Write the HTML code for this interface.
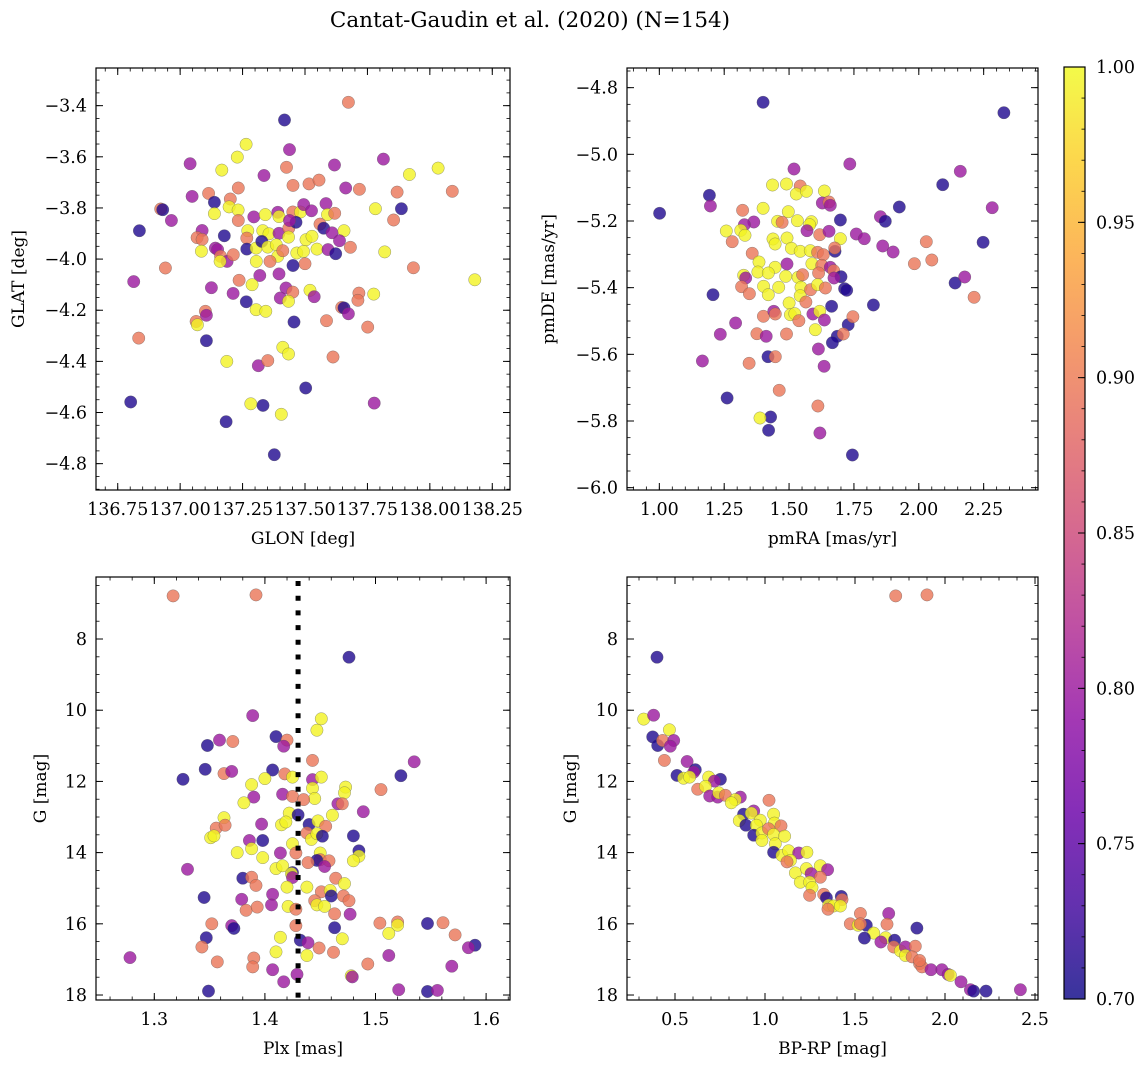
<!DOCTYPE html>
<html><head><meta charset="utf-8">
<style>
html,body{margin:0;padding:0;background:#fff;}
svg{display:block;font-family:"DejaVu Serif","Liberation Serif",serif;}
</style></head>
<body>
<svg id="fig" width="1148" height="1067" viewBox="0 0 1148 1067" xmlns="http://www.w3.org/2000/svg">
<defs>
<linearGradient id="cbgrad" x1="0" y1="1" x2="0" y2="0">
<stop offset="0" stop-color="#0d0887"/><stop offset="0.1" stop-color="#41049d"/><stop offset="0.2" stop-color="#6a00a8"/><stop offset="0.3" stop-color="#8f0da4"/><stop offset="0.4" stop-color="#b12a90"/><stop offset="0.5" stop-color="#cc4778"/><stop offset="0.6" stop-color="#e16462"/><stop offset="0.7" stop-color="#f2844b"/><stop offset="0.8" stop-color="#fca636"/><stop offset="0.9" stop-color="#fcce25"/><stop offset="1" stop-color="#f0f921"/>
</linearGradient>
</defs>
<text x="530" y="27" font-size="21.5" text-anchor="middle">Cantat-Gaudin et al. (2020) (N=154)</text>
</svg>
<script>
const p1x=[137.674,137.418,137.264,137.438,137.040,137.229,137.167,137.426,137.618,137.814,138.033,137.918,137.336,137.452,137.516,137.556,137.663,137.718,137.869,138.090,137.233,137.114,137.048,137.201,137.137,136.922,136.930,136.965,136.837,137.137,137.196,137.232,137.233,137.295,137.341,137.391,137.396,137.451,137.482,137.495,137.526,137.584,137.590,137.619,137.782,137.886,137.855,137.088,137.068,137.088,137.177,137.271,137.267,137.331,137.356,137.396,137.435,137.434,137.464,137.438,137.504,137.528,137.560,137.575,137.608,137.656,137.638,137.085,137.141,137.150,137.162,137.188,137.160,137.213,137.267,137.304,137.327,137.351,137.385,137.391,137.360,137.305,137.411,137.467,137.494,137.500,137.452,137.548,137.592,137.623,137.682,137.819,136.941,137.934,136.814,138.180,137.236,137.319,137.396,137.125,137.212,137.288,137.424,137.451,137.520,137.537,137.401,137.434,137.265,137.716,137.712,137.775,137.101,137.105,137.064,137.069,137.304,137.343,137.456,137.586,137.647,137.656,137.674,137.751,136.834,137.105,137.187,137.313,137.351,137.411,137.434,137.612,137.503,136.802,137.283,137.332,137.405,137.777,137.184,137.377];
const p1y=[-3.387,-3.456,-3.551,-3.572,-3.627,-3.601,-3.652,-3.641,-3.632,-3.609,-3.644,-3.669,-3.673,-3.712,-3.706,-3.691,-3.722,-3.727,-3.738,-3.735,-3.722,-3.743,-3.755,-3.765,-3.778,-3.804,-3.807,-3.849,-3.889,-3.822,-3.796,-3.808,-3.849,-3.835,-3.826,-3.817,-3.834,-3.816,-3.816,-3.787,-3.811,-3.783,-3.826,-3.821,-3.803,-3.803,-3.847,-3.888,-3.916,-3.923,-3.909,-3.889,-3.918,-3.889,-3.901,-3.899,-3.879,-3.914,-3.856,-3.849,-3.924,-3.911,-3.863,-3.879,-3.897,-3.889,-3.928,-3.969,-3.957,-3.963,-3.989,-4.009,-4.009,-3.983,-3.961,-3.957,-3.931,-3.953,-3.944,-3.989,-4.009,-4.009,-3.967,-3.976,-3.970,-4.018,-4.025,-3.961,-3.963,-3.979,-3.954,-3.972,-4.035,-4.034,-4.088,-4.081,-4.083,-4.064,-4.058,-4.112,-4.134,-4.100,-4.113,-4.129,-4.122,-4.147,-4.152,-4.165,-4.167,-4.133,-4.161,-4.137,-4.204,-4.220,-4.244,-4.257,-4.198,-4.204,-4.246,-4.241,-4.189,-4.191,-4.214,-4.266,-4.309,-4.319,-4.400,-4.417,-4.397,-4.345,-4.371,-4.383,-4.504,-4.559,-4.566,-4.572,-4.607,-4.563,-4.636,-4.765];
const p1p=[.895,.71,.995,.8,.8,.995,.995,.895,.8,.8,.995,.995,.8,.895,.895,.895,.8,.895,.895,.895,.895,.895,.8,.895,.71,.895,.71,.8,.71,.995,.995,.995,.895,.8,.995,.8,.995,.895,.995,.8,.8,.8,.995,.895,.995,.71,.895,.8,.895,.895,.71,.995,.895,.995,.995,.8,.895,.995,.71,.8,.995,.995,.895,.71,.8,.995,.8,.995,.8,.8,.895,.8,.995,.895,.71,.995,.71,.995,.995,.995,.895,.995,.895,.995,.995,.895,.71,.995,.8,.71,.895,.995,.895,.895,.8,.995,.895,.8,.8,.8,.8,.995,.8,.895,.995,.8,.8,.995,.71,.895,.895,.995,.895,.8,.895,.995,.995,.995,.71,.895,.895,.71,.8,.895,.895,.71,.995,.8,.895,.995,.995,.895,.71,.71,.995,.71,.995,.8,.71,.71];

const p2x=[1.400,2.328,1.734,1.519,2.160,2.092,1.436,1.490,1.543,1.528,1.567,1.636,1.193,1.197,1.001,1.628,1.654,1.659,1.925,2.283,1.321,1.400,1.497,1.456,1.473,1.532,1.586,1.579,1.364,1.328,1.698,1.852,1.871,1.258,1.314,1.330,1.281,1.438,1.492,1.446,1.569,1.618,1.654,1.698,1.759,1.790,1.861,1.901,2.029,2.248,1.358,1.509,1.543,1.582,1.610,1.632,1.677,1.676,1.384,1.492,1.446,1.588,1.626,1.659,1.983,2.050,1.325,1.333,1.380,1.420,1.487,1.535,1.552,1.614,1.672,1.700,1.673,2.140,2.177,1.207,1.317,1.347,1.402,1.420,1.460,1.546,1.543,1.583,1.610,1.640,1.714,1.722,2.213,1.500,1.565,1.664,1.825,1.401,1.441,1.447,1.505,1.522,1.538,1.592,1.618,1.636,1.294,1.235,1.376,1.412,1.490,1.601,1.728,1.746,1.686,1.667,1.709,1.613,1.419,1.447,1.346,1.166,1.635,1.462,1.261,1.611,1.429,1.388,1.421,1.619,1.744];
const p2y=[-4.844,-4.875,-5.029,-5.044,-5.051,-5.091,-5.092,-5.089,-5.095,-5.119,-5.111,-5.110,-5.123,-5.155,-5.177,-5.146,-5.143,-5.153,-5.158,-5.160,-5.168,-5.162,-5.172,-5.201,-5.204,-5.199,-5.202,-5.211,-5.203,-5.211,-5.197,-5.187,-5.201,-5.230,-5.228,-5.243,-5.262,-5.254,-5.251,-5.269,-5.229,-5.241,-5.231,-5.253,-5.239,-5.253,-5.275,-5.293,-5.262,-5.264,-5.297,-5.282,-5.291,-5.289,-5.294,-5.301,-5.291,-5.281,-5.323,-5.329,-5.339,-5.328,-5.333,-5.339,-5.328,-5.317,-5.363,-5.371,-5.353,-5.356,-5.366,-5.369,-5.361,-5.356,-5.349,-5.367,-5.371,-5.386,-5.368,-5.421,-5.397,-5.418,-5.396,-5.421,-5.399,-5.399,-5.424,-5.406,-5.391,-5.401,-5.403,-5.408,-5.429,-5.446,-5.443,-5.456,-5.452,-5.486,-5.471,-5.479,-5.481,-5.478,-5.499,-5.479,-5.471,-5.497,-5.506,-5.540,-5.538,-5.546,-5.539,-5.526,-5.511,-5.487,-5.546,-5.565,-5.539,-5.584,-5.607,-5.607,-5.627,-5.620,-5.636,-5.708,-5.731,-5.755,-5.788,-5.791,-5.828,-5.836,-5.902];
const p2p=[.71,.71,.8,.8,.8,.71,.995,.995,.895,.995,.995,.995,.71,.8,.71,.8,.895,.8,.71,.8,.895,.995,.995,.995,.895,.995,.995,.995,.8,.8,.71,.8,.71,.995,.995,.995,.895,.995,.995,.995,.8,.895,.8,.995,.8,.8,.8,.8,.895,.71,.895,.995,.995,.995,.895,.895,.71,.895,.995,.8,.995,.995,.895,.8,.895,.895,.995,.8,.995,.995,.995,.995,.895,.895,.895,.71,.8,.71,.8,.71,.895,.895,.995,.995,.995,.995,.995,.895,.995,.895,.71,.71,.895,.995,.895,.71,.71,.895,.8,.895,.995,.995,.895,.8,.995,.8,.8,.8,.895,.8,.895,.995,.71,.895,.71,.71,.895,.8,.71,.895,.895,.8,.8,.895,.71,.895,.71,.995,.71,.8,.71];

const p3x=[1.317,1.392,1.476,1.389,1.451,1.447,1.410,1.420,1.417,1.348,1.359,1.371,1.443,1.535,1.326,1.346,1.363,1.370,1.407,1.418,1.425,1.443,1.451,1.523,1.388,1.400,1.473,1.472,1.443,1.445,1.505,1.390,1.381,1.416,1.425,1.435,1.466,1.470,1.489,1.363,1.422,1.430,1.461,1.397,1.415,1.419,1.440,1.448,1.455,1.356,1.364,1.351,1.354,1.438,1.442,1.447,1.452,1.480,1.386,1.398,1.388,1.425,1.375,1.398,1.414,1.428,1.450,1.450,1.447,1.458,1.439,1.454,1.485,1.485,1.480,1.330,1.410,1.416,1.425,1.424,1.425,1.380,1.388,1.392,1.464,1.472,1.420,1.438,1.451,1.459,1.460,1.471,1.476,1.345,1.379,1.407,1.406,1.445,1.447,1.454,1.383,1.393,1.421,1.428,1.463,1.477,1.352,1.370,1.372,1.428,1.463,1.504,1.520,1.520,1.512,1.547,1.561,1.572,1.347,1.414,1.470,1.343,1.432,1.439,1.449,1.462,1.590,1.584,1.410,1.438,1.278,1.357,1.390,1.389,1.407,1.493,1.512,1.569,1.478,1.479,1.429,1.417,1.349,1.521,1.547,1.556];
const p3y=[6.79,6.76,8.51,10.15,10.24,10.56,10.74,10.84,11.01,10.99,10.84,10.88,11.41,11.45,11.94,11.66,11.78,11.72,11.68,11.79,11.88,11.95,11.88,11.84,12.09,11.92,12.16,12.32,12.19,12.48,12.23,12.44,12.60,12.36,12.42,12.51,12.63,12.63,12.85,13.02,12.89,12.94,12.95,13.20,13.22,13.14,13.21,13.11,13.26,13.31,13.23,13.58,13.53,13.45,13.63,13.47,13.54,13.53,13.66,13.66,13.89,13.75,14.00,14.14,14.01,14.01,14.01,14.20,14.22,14.23,14.28,14.39,13.95,14.10,14.23,14.47,14.45,14.37,14.56,14.59,14.70,14.72,14.69,14.92,14.72,14.87,14.97,14.97,15.10,15.06,15.22,15.22,15.35,15.26,15.31,15.17,15.47,15.35,15.47,15.51,15.62,15.53,15.51,15.59,15.72,15.73,16.00,16.05,16.13,16.05,16.11,15.98,15.95,16.04,16.27,15.99,15.97,16.31,16.39,16.38,16.42,16.65,16.46,16.53,16.68,16.80,16.60,16.67,16.79,16.89,16.95,17.07,16.96,17.21,17.29,17.13,16.89,17.19,17.46,17.49,17.42,17.63,17.89,17.85,17.90,17.87];
const p3p=[.895,.895,.71,.8,.995,.995,.71,.895,.8,.71,.8,.895,.895,.8,.71,.71,.895,.8,.71,.895,.995,.8,.995,.71,.995,.995,.995,.995,.995,.995,.895,.8,.995,.8,.895,.895,.8,.895,.8,.995,.995,.71,.995,.8,.995,.995,.71,.995,.895,.895,.895,.995,.995,.895,.995,.995,.71,.71,.8,.71,.995,.995,.995,.995,.8,.895,.995,.895,.71,.895,.895,.8,.71,.995,.995,.8,.995,.995,.71,.995,.8,.71,.895,.895,.895,.995,.995,.995,.895,.995,.71,.895,.895,.71,.8,.8,.8,.895,.995,.995,.895,.895,.995,.895,.895,.8,.895,.8,.71,.895,.71,.895,.895,.995,.995,.71,.895,.895,.71,.995,.995,.895,.71,.8,.895,.895,.71,.8,.995,.995,.8,.895,.895,.895,.8,.895,.8,.8,.995,.8,.8,.8,.71,.8,.71,.8];
const plxRef=[1.43];

const p4x=[1.726,1.900,0.400,0.326,0.381,0.469,0.376,0.404,0.431,0.493,0.474,0.441,0.567,0.613,0.604,0.511,0.548,0.581,0.687,0.752,0.719,0.626,0.669,0.693,0.737,0.743,0.780,0.863,0.835,0.813,1.022,0.937,0.881,0.924,0.857,0.894,0.974,0.952,1.048,1.052,1.089,0.937,0.983,0.983,1.020,1.048,1.057,1.109,1.048,1.094,1.131,1.187,1.233,1.141,1.122,1.169,1.230,1.307,1.348,1.256,1.307,1.196,1.248,1.261,1.248,1.326,1.341,1.424,1.428,1.354,1.381,1.419,1.350,1.530,1.474,1.563,1.517,1.687,1.678,1.844,1.604,1.670,1.552,1.720,1.644,1.715,1.752,1.780,1.835,1.780,1.817,1.859,1.872,1.922,1.983,2.017,2.030,2.089,2.141,2.159,2.228,2.419,1.530,1.859];
const p4y=[6.79,6.76,8.51,10.25,10.14,10.55,10.75,10.99,10.85,10.85,11.01,11.41,11.44,11.67,11.74,11.83,11.91,11.88,11.88,11.94,11.99,12.22,12.14,12.41,12.44,12.32,12.39,12.44,12.51,12.60,12.53,12.83,12.92,12.89,13.10,13.23,13.09,13.23,12.92,13.17,13.25,13.51,13.45,13.66,13.33,13.49,13.75,13.54,13.99,14.08,13.95,14.01,13.99,14.22,14.26,14.57,14.45,14.37,14.48,14.59,14.69,14.83,14.83,14.98,15.20,15.17,15.27,15.23,15.32,15.48,15.50,15.50,15.59,15.71,16.00,16.04,16.04,15.71,16.01,16.12,16.26,16.39,16.40,16.46,16.51,16.65,16.76,16.65,16.63,16.89,16.93,17.12,17.21,17.29,17.29,17.42,17.45,17.63,17.85,17.89,17.89,17.85,16.00,17.03];
const p4p=[.895,.895,.71,.995,.8,.995,.71,.71,.895,.8,.8,.895,.8,.71,.8,.71,.995,.995,.995,.71,.8,.895,.995,.8,.8,.995,.895,.8,.995,.995,.895,.8,.71,.995,.995,.71,.995,.995,.995,.995,.895,.71,.995,.995,.895,.995,.995,.995,.71,.995,.995,.8,.995,.995,.895,.995,.995,.995,.8,.8,.895,.995,.995,.995,.895,.895,.71,.71,.895,.995,.995,.995,.895,.895,.895,.71,.995,.8,.895,.71,.995,.995,.71,.71,.8,.895,.995,.8,.895,.995,.895,.895,.895,.8,.8,.8,.995,.8,.8,.71,.71,.8,.895,.895];

const p1xTicks=[136.75,137.00,137.25,137.50,137.75,138.00,138.25];
const p1yTicks=[-3.4,-3.6,-3.8,-4.0,-4.2,-4.4,-4.6,-4.8];
const p2xTicks=[1.00,1.25,1.50,1.75,2.00,2.25];
const p2yTicks=[-4.8,-5.0,-5.2,-5.4,-5.6,-5.8,-6.0];
const p3xTicks=[1.3,1.4,1.5,1.6];
const gTicks=[8,10,12,14,16,18];
const p4xTicks=[0.5,1.0,1.5,2.0,2.5];
const cbTicks=[0.70,0.75,0.80,0.85,0.90,0.95,1.00];

const NS="http://www.w3.org/2000/svg";
const svg=document.getElementById('fig');
const FS=17.5;
const stops=[[13,8,135],[65,4,157],[106,0,168],[143,13,164],[177,42,144],[204,71,120],[225,100,98],[242,132,75],[252,166,54],[252,206,37],[240,249,33]];
function plasma(t){t=Math.max(0,Math.min(1,t));const f=t*10,i=Math.min(9,Math.floor(f)),u=f-i;const a=stops[i],b=stops[i+1];return 'rgb('+[0,1,2].map(k=>Math.round(a[k]+(b[k]-a[k])*u)).join(',')+')';}
function el(tag,attrs,parent){const e=document.createElementNS(NS,tag);for(const k in attrs)e.setAttribute(k,attrs[k]);(parent||svg).appendChild(e);return e;}
function fmt(v,d){return v.toFixed(d).replace('-','\u2212');}

function panel(cfg){
  const g=el('g',{});
  
  
  const sx=v=>cfg.L+(v-cfg.x0)/(cfg.x1-cfg.x0)*(cfg.R-cfg.L);
  const sy=v=>cfg.T+(v-cfg.y0)/(cfg.y1-cfg.y0)*(cfg.B-cfg.T);
  const n=Math.min(cfg.xs.length,cfg.ys.length,cfg.ps.length);
  for(let i=0;i<n;i++){
    const c=el('circle',{cx:sx(cfg.xs[i]).toFixed(1),cy:sy(cfg.ys[i]).toFixed(1),r:6.2,fill:plasma((cfg.ps[i]-0.7)/0.3),'fill-opacity':0.8,stroke:'#555','stroke-width':0.5,'stroke-opacity':0.6},g);
    
    
  }
  if(cfg.vline){
    const l=el('line',{x1:sx(cfg.vline[0]),x2:sx(cfg.vline[0]),y1:cfg.T+4,y2:cfg.B,stroke:'#000','stroke-width':5,'stroke-dasharray':'5 9.7'},g);
    
    
  }
  const fr=el('rect',{x:cfg.L,y:cfg.T,width:cfg.R-cfg.L,height:cfg.B-cfg.T,fill:'none',stroke:'#000','stroke-width':1.2},g);
  
  
  const xa=Math.min(cfg.x0,cfg.x1),xb=Math.max(cfg.x0,cfg.x1);
  for(let v=Math.ceil(xa/cfg.xm-1e-6)*cfg.xm;v<=xb+1e-9;v+=cfg.xm){const x=sx(v);el('line',{x1:x,x2:x,y1:cfg.B,y2:cfg.B-3.5,stroke:'#000','stroke-width':0.8},g);el('line',{x1:x,x2:x,y1:cfg.T,y2:cfg.T+3.5,stroke:'#000','stroke-width':0.8},g);}
  const ya=Math.min(cfg.y0,cfg.y1),yb=Math.max(cfg.y0,cfg.y1);
  for(let v=Math.ceil(ya/cfg.ym-1e-6)*cfg.ym;v<=yb+1e-9;v+=cfg.ym){const y=sy(v);el('line',{x1:cfg.L,x2:cfg.L+3.5,y1:y,y2:y,stroke:'#000','stroke-width':0.8},g);el('line',{x1:cfg.R,x2:cfg.R-3.5,y1:y,y2:y,stroke:'#000','stroke-width':0.8},g);}
  cfg.xt.forEach(v=>{const x=sx(v);el('line',{x1:x,x2:x,y1:cfg.B,y2:cfg.B-7,stroke:'#000','stroke-width':1},g);el('line',{x1:x,x2:x,y1:cfg.T,y2:cfg.T+7,stroke:'#000','stroke-width':1},g);
    const t=el('text',{x:x,y:cfg.B+25,'font-size':FS,'text-anchor':'middle'},g);t.textContent=fmt(v,cfg.xd);
    
    });
  cfg.yt.forEach(v=>{const y=sy(v);el('line',{x1:cfg.L,x2:cfg.L+7,y1:y,y2:y,stroke:'#000','stroke-width':1},g);el('line',{x1:cfg.R,x2:cfg.R-7,y1:y,y2:y,stroke:'#000','stroke-width':1},g);
    const t=el('text',{x:cfg.L-9,y:y+6,'font-size':FS,'text-anchor':'end'},g);t.textContent=fmt(v,cfg.yd);
    
    });
  const xl=el('text',{x:(cfg.L+cfg.R)/2,y:cfg.B+54,'font-size':17,'text-anchor':'middle'},g);xl.textContent=cfg.xlab;
  
  
  const yl=el('text',{x:0,y:0,'font-size':17,'text-anchor':'middle',transform:'translate('+cfg.ylx+','+(cfg.T+cfg.B)/2+') rotate(-90)'},g);yl.textContent=cfg.ylab;
  
  
}

panel({name:'panel-glon-glat',L:96,R:510,T:68,B:490,x0:136.663,x1:138.321,y0:-3.2527,y1:-4.903,xs:p1x,ys:p1y,ps:p1p,xt:p1xTicks,yt:p1yTicks,xm:0.05,ym:0.05,xd:2,yd:1,xlab:'GLON [deg]',ylab:'GLAT [deg]',ylx:24});
panel({name:'panel-pmra-pmde',L:627,R:1038,T:68,B:490,x0:0.8754,x1:2.4594,y0:-4.741,y1:-6.007,xs:p2x,ys:p2y,ps:p2p,xt:p2xTicks,yt:p2yTicks,xm:0.05,ym:0.05,xd:2,yd:1,xlab:'pmRA [mas/yr]',ylab:'pmDE [mas/yr]',ylx:554});
panel({name:'panel-plx-g',L:96,R:510,T:577,B:1000,x0:1.2473,x1:1.6216,y0:6.258,y1:18.14,xs:p3x,ys:p3y,ps:p3p,xt:p3xTicks,yt:gTicks,xm:0.02,ym:0.5,xd:1,yd:0,xlab:'Plx [mas]',ylab:'G [mag]',ylx:46,vline:plxRef});
panel({name:'panel-bprp-g',L:627,R:1038,T:577,B:1000,x0:0.2333,x1:2.5167,y0:6.258,y1:18.14,xs:p4x,ys:p4y,ps:p4p,xt:p4xTicks,yt:gTicks,xm:0.1,ym:0.5,xd:1,yd:0,xlab:'BP-RP [mag]',ylab:'G [mag]',ylx:576});

const cb=el('g',{});


const CT=67,CB=999,CL=1064,CR=1085;
el('rect',{x:CL,y:CT,width:CR-CL,height:CB-CT,fill:'url(#cbgrad)','fill-opacity':0.82},cb);
el('rect',{x:CL,y:CT,width:CR-CL,height:CB-CT,fill:'none',stroke:'#000','stroke-width':1.2},cb);
const cy=v=>CB-(v-0.7)/0.3*(CB-CT);
for(let k=0;k<=30;k++){const v=0.7+k*0.01;const y=cy(v);el('line',{x1:CR,x2:CR-3.5,y1:y,y2:y,stroke:'#000','stroke-width':0.8},cb);}
cbTicks.forEach(v=>{const y=cy(v);el('line',{x1:CR,x2:CR-7,y1:y,y2:y,stroke:'#000','stroke-width':1},cb);
  const t=el('text',{x:CR+11,y:y+6,'font-size':FS},cb);t.textContent=v.toFixed(2);
  
  });
</script>
</body></html>
